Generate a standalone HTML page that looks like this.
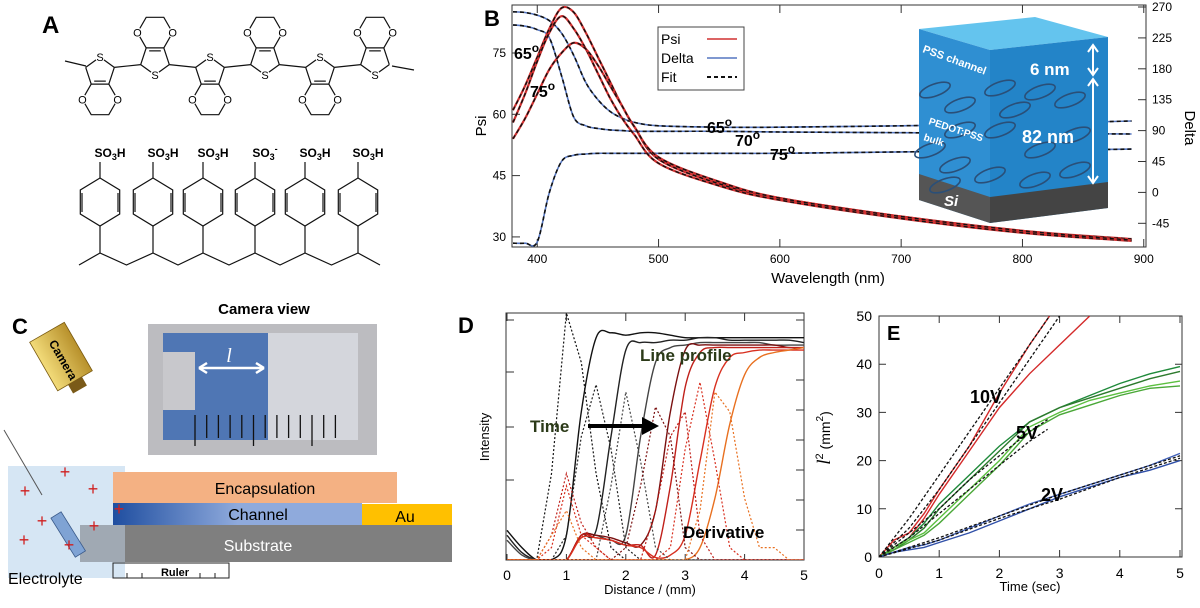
<!DOCTYPE html>
<html><head><meta charset="utf-8"><style>
body{margin:0;background:#fff;}
svg{display:block;font-family:"Liberation Sans",sans-serif;}
</style></head><body>
<svg id="fig" width="1200" height="608" viewBox="0 0 1200 608" xmlns="http://www.w3.org/2000/svg">
<defs>
<linearGradient id="chg" x1="0" x2="1" y1="0" y2="0"><stop offset="0" stop-color="#1f4ea0"/><stop offset="0.5" stop-color="#8faadc"/><stop offset="1" stop-color="#8faadc"/></linearGradient>
<linearGradient id="camg" x1="0" x2="1"><stop offset="0" stop-color="#f3dc7a"/><stop offset="1" stop-color="#b8912c"/></linearGradient>
<clipPath id="clipB"><rect x="512" y="5" width="634" height="242"/></clipPath>
<clipPath id="clipD"><rect x="506" y="313" width="298" height="247"/></clipPath>
<clipPath id="clipE"><rect x="879" y="316" width="303" height="241"/></clipPath>
</defs>
<g id="panelA">
<text x="42" y="33" font-size="24" font-weight="bold">A</text>
</g>
<g id="panelB">
<text x="484" y="26" font-size="22" font-weight="bold">B</text>
<rect x="512" y="5" width="634" height="242" fill="none" stroke="#333" stroke-width="1"/>
</g>
<g id="panelC">
<text x="12" y="334" font-size="22" font-weight="bold">C</text>
<text x="264" y="314" font-size="15" font-weight="bold" text-anchor="middle">Camera view</text>
<rect x="148" y="324" width="229" height="131" fill="#bcbcc0"/>
<rect x="163" y="333" width="105" height="107" fill="#4f76b4"/>
<rect x="268" y="333" width="90" height="107" fill="#d4d6dc"/>
<rect x="163" y="352" width="32" height="58" fill="#c8c8cc"/>
<line x1="199" y1="368" x2="264" y2="368" stroke="#fff" stroke-width="2.5"/>
<path d="M199 368 l8 -5 M199 368 l8 5 M264 368 l-8 -5 M264 368 l-8 5" stroke="#fff" stroke-width="2.5" fill="none"/>
<text x="229" y="362" font-size="20" font-style="italic" fill="#fff" font-family="Liberation Serif,serif" text-anchor="middle">l</text>
<g id="rulerTicks"></g>
<g transform="translate(63,360) rotate(-30)">
<rect x="-20" y="-32" width="40" height="56" fill="url(#camg)" stroke="#7a5a10" stroke-width="0.8"/>
<rect x="-8" y="24" width="16" height="10" fill="#7a5a18"/>
<text x="0" y="0" font-size="12" font-weight="bold" transform="rotate(90)" text-anchor="middle" dy="4">Camera</text>
</g>
<rect x="8" y="466" width="117" height="112" fill="#d6e6f4"/>
<rect x="113" y="472" width="284" height="31" fill="#f4b183"/>
<text x="265" y="494" font-size="16" text-anchor="middle">Encapsulation</text>
<rect x="113" y="503" width="249" height="22" fill="url(#chg)"/>
<text x="258" y="520" font-size="16" text-anchor="middle">Channel</text>
<rect x="362" y="504" width="90" height="21" fill="#ffc000"/>
<text x="405" y="522" font-size="16" text-anchor="middle">Au</text>
<rect x="80" y="525" width="372" height="37" fill="#7f7f7f"/>
<rect x="80" y="525" width="45" height="37" fill="#a9b4c0" opacity="0.8"/>
<text x="258" y="551" font-size="16" fill="#fff" text-anchor="middle">Substrate</text>
<line x1="4" y1="430" x2="42" y2="495" stroke="#555" stroke-width="1"/>
<rect x="-6" y="0" width="12" height="46" fill="#7fa3d4" stroke="#3a5a8a" stroke-width="0.8" transform="translate(56,515) rotate(-32)"/>
<g id="plusSigns"></g>
<text x="8" y="584" font-size="16">Electrolyte</text>
<rect x="113" y="563" width="116" height="15" fill="none" stroke="#222" stroke-width="1"/>
<path d="M127 578v-5M142 578v-5M200 578v-5M215 578v-5" stroke="#222"/>
<text x="175" y="576" font-size="11" font-weight="bold" text-anchor="middle">Ruler</text>
</g>
<g id="panelD">
<text x="458" y="333" font-size="22" font-weight="bold">D</text>
<rect x="506" y="313" width="298" height="247" fill="none" stroke="#333"/>
<text x="489" y="437" font-size="13" text-anchor="middle" transform="rotate(-90 489 437)">Intensity</text>
<text x="650" y="594" font-size="13" text-anchor="middle">Distance / (mm)</text>
</g>
<g id="panelE">
<rect x="879" y="316" width="303" height="241" fill="none" stroke="#333"/>
<text x="887" y="340" font-size="20" font-weight="bold">E</text>
<text x="1030" y="591" font-size="13" text-anchor="middle">Time (sec)</text>
<text transform="translate(830 438) rotate(-90)" font-size="14" text-anchor="middle"><tspan font-style="italic" font-family="Liberation Serif,serif" font-size="19">l</tspan><tspan dy="-7" font-size="11">2</tspan><tspan dy="7"> (mm</tspan><tspan dy="-7" font-size="10">2</tspan><tspan dy="7">)</tspan></text>
</g>
</svg>
<script>
// ===== Panel B data =====
const wl = [380,390,400,410,420,430,440,450,460,470,480,500,550,600,700,800,890];
const psiA = [61,67,74,81,86,85,80,74,68,62,57,49,43,39.5,35,31.5,29.5];
const psiB = [58,65,73,80,84,81,76,70,64,59,55,48,42.5,39,34.5,31,29];
const psiC = [54,59,65,71,75,77.5,76,72,67,62,57,49.5,43.5,39.5,35,31.5,29.2];
const delta65 = [263,262,258,250,232,200,160,135,118,108,102,97,95,95,97,100,104];
const delta70 = [244,242,237,225,170,110,97,93,91,90,89,89,89,88,87,86,85];
const delta75 = [-74,-74,-72,0,45,54,56,57,57,57,57,57,57,57,59,61,63];
const wlTicks = [400,500,600,700,800,900];
const psiTicks = [30,45,60,75];
const deltaTicks = [270,225,180,135,90,45,0,-45];
// ===== Panel D data =====
const distX = [0,0.25,0.5,0.75,1,1.25,1.5,1.75,2,2.25,2.5,2.75,3,3.25,3.5,3.75,4,4.25,4.5,4.75,5];
const prof1 = [0.12,0.05,0,0,0.1,0.6,0.9,0.92,0.91,0.92,0.92,0.91,0.9,0.9,0.9,0.9,0.9,0.9,0.9,0.9,0.9];
const prof2 = [0.1,0.03,0,0,0,0.1,0.12,0.5,0.85,0.88,0.88,0.89,0.89,0.9,0.9,0.89,0.89,0.89,0.89,0.89,0.88];
const prof3 = [0.08,0.02,0,0,0,0.1,0.1,0.08,0.1,0.5,0.8,0.86,0.87,0.88,0.88,0.88,0.88,0.88,0.87,0.87,0.87];
const prof4 = [0,0,0,0,0,0.1,0.1,0.09,0.07,0.06,0.2,0.6,0.85,0.87,0.87,0.87,0.87,0.87,0.87,0.86,0.86];
const prof5 = [0,0,0,0,0,0.1,0.09,0.08,0.06,0.06,0.02,0.3,0.7,0.84,0.86,0.86,0.86,0.86,0.86,0.86,0.86];
const prof6 = [0,0,0,0,0,0.09,0.09,0.08,0.06,0.05,0.01,0.02,0.1,0.4,0.7,0.82,0.84,0.85,0.85,0.85,0.85];
const prof7 = [0,0,0,0,0,0,0,0,0,0,0,0,0,0.05,0.25,0.55,0.75,0.82,0.84,0.85,0.86];
const deriv1 = [0,0,0,0.35,1.0,0.8,0.35,0.05,0,0,0,0,0,0,0,0,0,0,0,0,0];
const deriv2 = [0,0,0,0,0.1,0.5,0.71,0.45,0.05,0,0,0,0,0,0,0,0,0,0,0,0];
const deriv3 = [0,0,0,0,0,0,0,0.3,0.68,0.4,0.05,0,0,0,0,0,0,0,0,0,0];
const deriv4 = [0,0,0,0,0,0,0,0,0.05,0.3,0.62,0.5,0.05,0,0,0,0,0,0,0,0];
const deriv5 = [0,0,0,0.1,0.35,0.15,0.05,0,0,0,0.2,0.5,0.6,0.1,0,0,0,0,0,0,0];
const deriv6 = [0,0,0,0.05,0.3,0.1,0.05,0,0,0,0,0.05,0.45,0.72,0.4,0.05,0,0,0,0,0];
const deriv7 = [0,0,0,0.1,0.2,0.05,0,0,0,0,0,0,0,0.2,0.68,0.6,0.25,0.05,0.05,0,0];
const distTicks = [0,1,2,3,4,5];
// ===== Panel E data =====
const tRed = [0,0.25,0.5,0.75,1,1.5,2,2.5,3,3.5];
const red1 = [0,3.5,5,9,14,23,34,44,53,60];
const red2 = [0,2,4,8,13,22,31,38,44,50];
const tData = [0,0.25,0.5,0.75,1,1.5,2,2.5,3,3.5,4,4.5,5];
const green1 = [0,2,4,7,11,17,23,28,31,33.5,36,38,39.5];
const green2 = [0,1.5,3.5,6,10,16,22,28,31,33,35,37,38.5];
const green3 = [0,2,3.5,5,8,14,20,27,30,32.5,34,35.5,36.5];
const green4 = [0,1.5,3,4.5,7,13,19,26,29.5,31.5,33.5,35,35.5];
const blue1 = [0,1,2,2.5,3.5,6,8.5,11,13,15,17,19,21.5];
const blue2 = [0,1,1.5,2,3,5,7.5,10,12.5,14.5,16.5,18,20];
const tFit = [0,0.5,1,1.5,2,2.5,3];
const fit10a = [0,8,17,26,35,44,53];
const fit10b = [0,6,14,23,32,41,50];
const fit5a = [0,5,10,16,21,26,30];
const fit5b = [0,4,9,14,19,24,28];
const tFit2 = [0,1,2,3,4,5];
const fit2a = [0,4,8.5,13,17,21];
const fit2b = [0,3.5,8,12,16.5,20.5];
const timeTicks = [0,1,2,3,4,5];
const l2Ticks = [0,10,20,30,40,50];

const NS = "http://www.w3.org/2000/svg";
function mk(tag, parent, attrs){const e=document.createElementNS(NS,tag);for(const k in attrs)e.setAttribute(k,attrs[k]);parent.appendChild(e);return e;}
function smooth(pts){let d="M"+pts[0][0].toFixed(1)+" "+pts[0][1].toFixed(1);
 for(let i=0;i<pts.length-1;i++){const p0=pts[i-1]||pts[i],p1=pts[i],p2=pts[i+1],p3=pts[i+2]||p2;
 const c1=[p1[0]+(p2[0]-p0[0])/6,p1[1]+(p2[1]-p0[1])/6],c2=[p2[0]-(p3[0]-p1[0])/6,p2[1]-(p3[1]-p1[1])/6];
 d+=" C"+c1[0].toFixed(1)+" "+c1[1].toFixed(1)+" "+c2[0].toFixed(1)+" "+c2[1].toFixed(1)+" "+p2[0].toFixed(1)+" "+p2[1].toFixed(1);}return d;}
function poly(pts){return "M"+pts.map(p=>p[0].toFixed(1)+" "+p[1].toFixed(1)).join(" L");}

// ---------- Panel A ----------
const gA=document.getElementById('panelA');
const bondA={stroke:"#111","stroke-width":1.2,fill:"none"};
function thio(cx,cy,up){const r=15,s=up?1:-1,v=[];for(let i=0;i<5;i++){const a=(-90+72*i)*Math.PI/180;v.push([cx+r*Math.cos(a),cy+s*r*Math.sin(a)]);}
 const ring=mk('path',gA,Object.assign({d:poly([v[1],v[2],v[3],v[4]])},bondA));
 
 
 mk('path',gA,Object.assign({d:poly([v[4],v[0]])+" M"+v[0][0]+" "+v[0][1]+" L"+v[1][0]+" "+v[1][1]},bondA));
 mk('circle',gA,{cx:v[0][0],cy:v[0][1],r:5,fill:"#fff"});
 mk('text',gA,{x:v[0][0],y:v[0][1]+4,"font-size":11,"text-anchor":"middle"}).textContent="S";
 const L=v[2][0]-v[3][0],mx=(v[2][0]+v[3][0])/2,my=v[2][1],h=L*0.866;
 const O1=[mx+L,my+s*h],O2=[mx-L,my+s*h],C1=[mx+L/2,my+s*2*h],C2=[mx-L/2,my+s*2*h];
 mk('path',gA,Object.assign({d:poly([v[2],O1,C1,C2,O2,v[3]])},bondA));
 mk('path',gA,Object.assign({d:"M"+(v[2][0]-3)+" "+(my-s*3)+" L"+(v[3][0]+3)+" "+(my-s*3)},bondA));
 [O1,O2].forEach(o=>{mk('circle',gA,{cx:o[0],cy:o[1],r:5,fill:"#fff"});mk('text',gA,{x:o[0],y:o[1]+4,"font-size":11,"text-anchor":"middle"}).textContent="O";});
 return v;}
const rings=[[100,72,false],[155,60,true],[210,72,false],[265,60,true],[320,72,false],[375,60,true]];
let prevV=null;
rings.forEach(([x,y,u],i)=>{const v=thio(x,y,!u);
 if(prevV){mk('path',gA,Object.assign({d:poly([prevV[1],v[4]])},bondA));}
 prevV=v;});
mk('path',gA,Object.assign({d:"M65 61 L86 66 M414 70 L392 66"},bondA));
const benzX=[100,153,203,255,305,358];
benzX.forEach((bx,i)=>{const cy=202,r=24,v=[];for(let k=0;k<6;k++){const a=(90+60*k)*Math.PI/180;v.push([bx+r*Math.cos(a)*0.95,cy-r*Math.sin(a)]);}
 const hx=mk('path',gA,Object.assign({d:poly(v.concat([v[0]]))},bondA));
 
 
 mk('path',gA,Object.assign({d:"M"+(bx-18)+" 193 L"+(bx-18)+" 212 M"+(bx+18)+" 193 L"+(bx+18)+" 212"},bondA));
 mk('path',gA,Object.assign({d:"M"+bx+" 178 L"+bx+" 162 M"+bx+" 226 L"+bx+" 253"},bondA));
 const lab=mk('text',gA,{x:bx+10,y:157,"font-size":12,"text-anchor":"middle","font-weight":"bold"});
 
 
 lab.innerHTML = i===3 ? 'SO<tspan dy="3" font-size="9">3</tspan><tspan dy="-8" font-size="9">-</tspan>' : 'SO<tspan dy="3" font-size="9">3</tspan><tspan dy="-3">H</tspan>';
});
let bb="M79 265 L100 253";
for(let i=0;i<benzX.length-1;i++){const m=(benzX[i]+benzX[i+1])/2;bb+=" L"+m+" 265 L"+benzX[i+1]+" 253";}
bb+=" L380 265";
const bbp=mk('path',gA,Object.assign({d:bb},bondA));



// ---------- Panel B ----------
const gB=document.getElementById('panelB');
const xB=w=>513+(w-380)*1.213, yPsi=p=>53+(75-p)*4.087, yDel=d=>7+(270-d)*0.6867;
wlTicks.forEach(w=>{const t=mk('text',gB,{x:xB(w),y:263,"font-size":12,"text-anchor":"middle"});t.textContent=w;
 
 
 mk('path',gB,{d:"M"+xB(w)+" 247 v-8 M"+xB(w)+" 5 v8",stroke:"#333"});});
psiTicks.forEach(p=>{const t=mk('text',gB,{x:506,y:yPsi(p)+4,"font-size":12,"text-anchor":"end"});t.textContent=p;
 
 
 mk('path',gB,{d:"M512 "+yPsi(p)+" h8",stroke:"#333"});});
deltaTicks.forEach(d=>{const t=mk('text',gB,{x:1152,y:yDel(d)+4,"font-size":12});t.textContent=d;
 
 
 mk('path',gB,{d:"M1146 "+yDel(d)+" h-8",stroke:"#333"});});
const bx1=mk('text',gB,{x:828,y:283,"font-size":15,"text-anchor":"middle"});bx1.textContent="Wavelength (nm)";


const by1=mk('text',gB,{x:0,y:0,"font-size":15,"text-anchor":"middle",transform:"translate(486 126) rotate(-90)"});by1.textContent="Psi";


const by2=mk('text',gB,{x:0,y:0,"font-size":15,"text-anchor":"middle",transform:"translate(1185 128) rotate(90)"});by2.textContent="Delta";


const cB=mk('g',gB,{"clip-path":"url(#clipB)"});
[[delta65,'delta-65'],[delta70,'delta-70'],[delta75,'delta-75']].forEach(([arr,nm])=>{const pts=wl.map((w,i)=>[xB(w),yDel(arr[i])]);
 const l=mk('path',cB,{d:smooth(pts),stroke:"#5576c0","stroke-width":1.6,fill:"none"});
 
 
 const f=mk('path',cB,{d:smooth(pts),stroke:"#111","stroke-width":1.6,fill:"none","stroke-dasharray":"4 3"});
 
 });
[[psiA,'psi-65'],[psiB,'psi-70'],[psiC,'psi-75']].forEach(([arr,nm])=>{const pts=wl.map((w,i)=>[xB(w),yPsi(arr[i])]);
 const l=mk('path',cB,{d:smooth(pts),stroke:"#d03030","stroke-width":2.2,fill:"none"});
 
 
 const f=mk('path',cB,{d:smooth(pts),stroke:"#111","stroke-width":1.4,fill:"none","stroke-dasharray":"4 3"});
 
 });
// inset block
const ins=mk('g',gB,{});


mk('path',ins,{d:"M919 29 L1035 17 L1108 37 L990 50Z",fill:"#64c4ee"});
mk('path',ins,{d:"M919 29 L990 50 L990 223 L919 200Z",fill:"#2f8fd2"});
mk('path',ins,{d:"M990 50 L1108 37 L1108 208 L990 223Z",fill:"#2384c8"});
mk('path',ins,{d:"M919 174 L990 197 L990 223 L919 200Z",fill:"#555"});
mk('path',ins,{d:"M990 197 L1108 182 L1108 208 L990 223Z",fill:"#444"});
[[935,90],[960,105],[1000,88],[1040,92],[1070,100],[930,150],[955,165],[1000,130],[1040,150],[1075,135],[945,185],[990,175],[1035,180],[1075,170],[1015,110],[960,130]].forEach(([x,y])=>mk('ellipse',ins,{cx:x,cy:y,rx:16,ry:6,fill:"none",stroke:"#2a4f78","stroke-width":1.6,transform:"rotate(-20 "+x+" "+y+")"}));
const ps=mk('text',ins,{x:922,y:52,"font-size":11,fill:"#fff","font-weight":"bold",transform:"rotate(20 922 52)"});ps.textContent="PSS channel";
const pb=mk('text',ins,{x:928,y:124,"font-size":10,fill:"#fff","font-weight":"bold",transform:"rotate(18 928 124)"});pb.textContent="PEDOT:PSS";
const pb2=mk('text',ins,{x:923,y:140,"font-size":10,fill:"#fff","font-weight":"bold",transform:"rotate(18 923 140)"});pb2.textContent="bulk";
const n6=mk('text',ins,{x:1030,y:75,"font-size":17,fill:"#fff","font-weight":"bold"});n6.textContent="6 nm";
const n82=mk('text',ins,{x:1022,y:143,"font-size":18,fill:"#fff","font-weight":"bold"});n82.textContent="82 nm";
const si=mk('text',ins,{x:944,y:206,"font-size":15,fill:"#fff","font-weight":"bold","font-style":"italic"});si.textContent="Si";
mk('path',ins,{d:"M1093 46 V74 M1093 80 V182 M1088 52 l5 -7 l5 7 M1088 68 l5 7 l5 -7 M1088 86 l5 -7 l5 7 M1088 176 l5 7 l5 -7",stroke:"#fff","stroke-width":2,fill:"none"});
// legend
const lg=mk('g',gB,{});


mk('rect',lg,{x:658,y:27,width:86,height:63,fill:"#fff",stroke:"#444"});
[["Psi","#d03030",null,44],["Delta","#5576c0",null,63],["Fit","#111","4 3",82]].forEach(([t,c,da,y])=>{const tx=mk('text',lg,{x:661,y:y,"font-size":14});tx.textContent=t;
 
 
 const a={d:"M707 "+(y-5)+" h30",stroke:c,"stroke-width":da?2:1.4};if(da)a["stroke-dasharray"]=da;mk('path',lg,a);});
[["65",514,59],["75",530,97],["65",707,133],["70",735,146],["75",770,160]].forEach(([t,x,y])=>{const tx=mk('text',gB,{x:x,y:y,"font-size":16,"font-weight":"bold"});tx.innerHTML=t+'<tspan dy="-7" font-size="12">o</tspan>';
 
 });

// ---------- Panel C extras ----------
const rt=document.getElementById('rulerTicks');
for(let i=0;i<13;i++){const x=195+i*11.7;mk('line',rt,{x1:x,y1:415,x2:x,y2:(i%5===0?446:438),stroke:"#111","stroke-width":1.3});}
const pl=document.getElementById('plusSigns');
[[65,478],[25,497],[93,495],[42,527],[94,532],[24,546],[69,551],[119,515]].forEach(([x,y])=>{const t=mk('text',pl,{x:x,y:y,"font-size":18,fill:"#d02020","text-anchor":"middle"});t.textContent="+";});

// ---------- Panel D ----------
const gD=document.getElementById('panelD');
const xD=v=>507+v*59.4, yD=v=>560-v*247;
distTicks.forEach(v=>{const t=mk('text',gD,{x:xD(v),y:580,"font-size":14,"text-anchor":"middle"});t.textContent=v;
 
 
 mk('path',gD,{d:"M"+xD(v)+" 560 v-6 M"+xD(v)+" 313 v8",stroke:"#333"});});
[320,372,427,480].forEach(y=>mk('path',gD,{d:"M506 "+y+" h8",stroke:"#333"}));
[320,380,410,440,470,500,530].forEach(y=>mk('path',gD,{d:"M804 "+y+" h-8",stroke:"#333"}));
const cD=mk('g',gD,{"clip-path":"url(#clipD)"});
const dcol=["#111","#222","#444","#7a1010","#c0201a","#d83020","#e87020"];
[prof1,prof2,prof3,prof4,prof5,prof6,prof7].forEach((arr,k)=>{const l=mk('path',cD,{d:smooth(distX.map((x,i)=>[xD(x),yD(arr[i])])),stroke:dcol[k],"stroke-width":1.4,fill:"none"});
 
 });
[deriv1,deriv2,deriv3,deriv4,deriv5,deriv6,deriv7].forEach((arr,k)=>{const l=mk('path',cD,{d:poly(distX.map((x,i)=>[xD(x),yD(arr[i])])),stroke:dcol[k],"stroke-width":1.2,fill:"none","stroke-dasharray":"2 2"});
 
 });
const lp=mk('text',gD,{x:640,y:361,"font-size":17,"font-weight":"bold",fill:"#2b3a18"});lp.textContent="Line profile";


const tm=mk('text',gD,{x:530,y:432,"font-size":17,"font-weight":"bold",fill:"#2b3a18"});tm.textContent="Time";


mk('path',gD,{d:"M588 426 H645",stroke:"#000","stroke-width":4});
mk('path',gD,{d:"M642 417 L659 426 L642 435Z",fill:"#000"});
const dv=mk('text',gD,{x:683,y:538,"font-size":17,"font-weight":"bold"});dv.textContent="Derivative";



// ---------- Panel E ----------
const gE=document.getElementById('panelE');
const xE=t=>879+t*60.2, yE=v=>557-v*4.82;
timeTicks.forEach(v=>{const t=mk('text',gE,{x:xE(v),y:578,"font-size":14,"text-anchor":"middle"});t.textContent=v;
 
 
 mk('path',gE,{d:"M"+xE(v)+" 557 v-7 M"+xE(v)+" 316 v7",stroke:"#333"});});
l2Ticks.forEach(v=>{const t=mk('text',gE,{x:872,y:yE(v)+5,"font-size":14,"text-anchor":"end"});t.textContent=v;
 
 
 mk('path',gE,{d:"M879 "+yE(v)+" h7 M1182 "+yE(v)+" h-7",stroke:"#333"});});
const cE=mk('g',gE,{"clip-path":"url(#clipE)"});
function eLine(ts,arr,col,nm,dash){const a={d:poly(ts.map((t,i)=>[xE(t),yE(arr[i])])),stroke:col,"stroke-width":dash?1.3:1.4,fill:"none"};if(dash)a["stroke-dasharray"]="3 2";
 const l=mk('path',cE,a);
 
 }
eLine(tRed,red1,"#d42a2a","series-10v-a");
eLine(tRed,red2,"#d42a2a","series-10v-b");
eLine(tData,green1,"#1f8a3a","series-5v-a");
eLine(tData,green2,"#2d7a2d","series-5v-b");
eLine(tData,green3,"#5cc040","series-5v-c");
eLine(tData,green4,"#4aa838","series-5v-d");
eLine(tData,blue1,"#4060b8","series-2v-a");
eLine(tData,blue2,"#3050a8","series-2v-b");
eLine(tFit,fit10a,"#111","fit-10v-a",1);
eLine(tFit,fit10b,"#111","fit-10v-b",1);
eLine(tFit.slice(0,6).concat([2.8]),fit5a.slice(0,6).concat([28.5]),"#111","fit-5v-a",1);
eLine(tFit.slice(0,6).concat([2.8]),fit5b.slice(0,6).concat([26.5]),"#111","fit-5v-b",1);
eLine(tFit2,fit2a,"#111","fit-2v-a",1);
eLine(tFit2,fit2b,"#111","fit-2v-b",1);
[["10V",970,403],["5V",1016,439],["2V",1041,501]].forEach(([t,x,y])=>{const tx=mk('text',gE,{x:x,y:y,"font-size":18,"font-weight":"bold"});tx.textContent=t;
 
 });
</script>
</body></html>
